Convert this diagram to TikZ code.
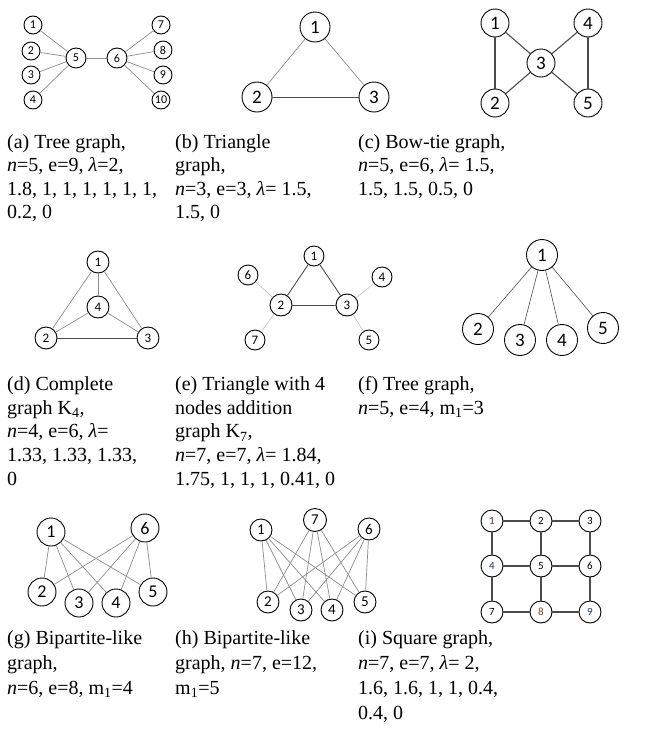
\documentclass[tikz,border=0pt]{standalone}
\usepackage{fontspec}
\setmainfont{Liberation Serif}
\newfontfamily\nodefont{Carlito}
\definecolor{edgegray}{gray}{0.55}
\definecolor{edgedark}{gray}{0.3}
\definecolor{lblred}{RGB}{120,40,30}
\definecolor{lblblue}{RGB}{30,60,110}
\definecolor{lblbrown}{RGB}{110,70,30}
\tikzset{
  gn/.style={circle, draw=black, line width=0.9pt, fill=white, inner sep=0pt, minimum size=#1},
  gn/.default=20pt,
  lite/.style={draw=edgegray, line width=0.7pt},
  dark/.style={draw=edgedark, line width=1.1pt},
  cap/.style={anchor=north west, inner sep=0pt, align=left, font=\fontsize{20}{#1}\selectfont},
  cap/.default=23.5
}
\begin{document}
\begin{tikzpicture}[x=1pt,y=-1pt]
\useasboundingbox (0,0) rectangle (645,742);
% ---------- (a) ----------
\begin{scope}[every node/.append style={font=\nodefont\fontsize{12}{12}\selectfont}]
\node[gn=18pt] (a1) at (33,25) {1};
\node[gn=18pt] (a2) at (31,51) {2};
\node[gn=18pt] (a3) at (31,75) {3};
\node[gn=18pt] (a4) at (33,100) {4};
\node[gn=20pt] (a5) at (76,58) {5};
\node[gn=20pt] (a6) at (117,58) {6};
\node[gn=18pt] (a7) at (161,25) {7};
\node[gn=18pt] (a8) at (163,50) {8};
\node[gn=18pt] (a9) at (163,75) {9};
\node[gn=18pt] (a10) at (161,100) {10};
\end{scope}
\begin{scope}[on background layer/.style={}]
\foreach \i in {1,2,3,4} \draw[lite] (a\i) -- (a5);
\foreach \i in {7,8,9,10} \draw[lite] (a\i) -- (a6);
\draw[lite] (a5) -- (a6);
\end{scope}
% ---------- (b) ----------
\begin{scope}[every node/.append style={font=\nodefont\fontsize{19}{19}\selectfont}]
\node[gn=30pt] (b1) at (315,27) {1};
\node[gn=30pt] (b2) at (257,97) {2};
\node[gn=30pt] (b3) at (374,97) {3};
\end{scope}
\draw[lite] (b1) -- (b2);
\draw[lite] (b1) -- (b3);
\draw[dark, line width=0.8pt] (b2) -- (b3);
% ---------- (c) ----------
\begin{scope}[every node/.append style={font=\nodefont\fontsize{19}{19}\selectfont}]
\node[gn=28pt] (c1) at (495,23) {1};
\node[gn=28pt] (c4) at (588,23) {4};
\node[gn=28pt] (c3) at (541,63) {3};
\node[gn=28pt] (c2) at (495,103) {2};
\node[gn=28pt] (c5) at (588,103) {5};
\end{scope}
\draw[dark] (c1) -- (c2);
\draw[dark] (c1) -- (c3);
\draw[dark] (c3) -- (c4);
\draw[dark] (c3) -- (c2);
\draw[dark] (c3) -- (c5);
\draw[dark] (c4) -- (c5);
% ---------- (d) ----------
\begin{scope}[every node/.append style={font=\nodefont\fontsize{13}{13}\selectfont}]
\node[gn=22pt] (d1) at (98,262) {1};
\node[gn=22pt] (d4) at (98,307) {4};
\node[gn=22pt] (d2) at (46,338) {2};
\node[gn=22pt] (d3) at (148,338) {3};
\end{scope}
\draw[lite] (d1) -- (d4);
\draw[lite] (d1) -- (d2);
\draw[lite] (d1) -- (d3);
\draw[lite] (d4) -- (d2);
\draw[lite] (d4) -- (d3);
\draw[lite, draw=edgedark] (d2) -- (d3);
% ---------- (e) ----------
\begin{scope}[every node/.append style={font=\nodefont\fontsize{13}{13}\selectfont}]
\node[gn=20pt] (e1) at (314,256) {1};
\node[gn=20pt] (e6) at (248,275) {6};
\node[gn=22pt] (e2) at (281,305) {2};
\node[gn=22pt] (e3) at (347,305) {3};
\node[gn=20pt] (e4) at (382,277) {4};
\node[gn=20pt] (e7) at (255,340) {7};
\node[gn=20pt] (e5) at (369,340) {5};
\end{scope}
\draw[dark, line width=0.9pt] (e1) -- (e2);
\draw[dark, line width=0.9pt] (e1) -- (e3);
\draw[dark, line width=0.9pt] (e2) -- (e3);
\draw[lite, draw=gray!45] (e6) -- (e2);
\draw[lite, draw=gray!45] (e7) -- (e2);
\draw[lite, draw=gray!45] (e4) -- (e3);
\draw[lite, draw=gray!45] (e5) -- (e3);
% ---------- (f) ----------
\begin{scope}[every node/.append style={font=\nodefont\fontsize{19}{19}\selectfont}]
\node[gn=31pt] (f1) at (542,255) {1};
\node[gn=31pt] (f2) at (478,329) {2};
\node[gn=31pt] (f3) at (520,340) {3};
\node[gn=31pt] (f4) at (562,340) {4};
\node[gn=31pt] (f5) at (603,328) {5};
\end{scope}
\foreach \i in {2,3,4,5} \draw[lite, draw=edgedark, line width=0.6pt] (f1) -- (f\i);
% ---------- (g) ----------
\begin{scope}[every node/.append style={font=\nodefont\fontsize{18}{18}\selectfont}]
\node[gn=28pt] (g1) at (51,532) {1};
\node[gn=28pt] (g6) at (145,528) {6};
\node[gn=28pt] (g2) at (42,592) {2};
\node[gn=28pt] (g3) at (79,603) {3};
\node[gn=28pt] (g4) at (116,603) {4};
\node[gn=28pt] (g5) at (153,592) {5};
\end{scope}
\foreach \i in {2,3,4,5} {\draw[lite] (g1) -- (g\i); \draw[lite] (g6) -- (g\i);}
% ---------- (h) ----------
\begin{scope}[every node/.append style={font=\nodefont\fontsize{15}{15}\selectfont}]
\node[gn=22pt] (h1) at (261,530) {1};
\node[gn=23pt] (h7) at (315,520) {7};
\node[gn=22pt] (h6) at (369,529) {6};
\node[gn=22pt] (h2) at (268,602) {2};
\node[gn=22pt] (h3) at (301,610) {3};
\node[gn=22pt] (h4) at (332,610) {4};
\node[gn=22pt] (h5) at (365,602) {5};
\end{scope}
\foreach \i in {2,3,4,5} {\draw[lite] (h1) -- (h\i); \draw[lite] (h7) -- (h\i); \draw[lite] (h6) -- (h\i);}
% ---------- (i) ----------
\begin{scope}[every node/.append style={font=\nodefont\fontsize{11}{11}\selectfont}]
\node[gn=22pt, text=lblred] (i1) at (492,521) {1};
\node[gn=22pt] (i2) at (541,521) {2};
\node[gn=22pt] (i3) at (590,521) {3};
\node[gn=22pt, text=lblblue] (i4) at (492,566) {4};
\node[gn=22pt] (i5) at (541,566) {5};
\node[gn=22pt] (i6) at (590,566) {6};
\node[gn=22pt] (i7) at (492,612) {7};
\node[gn=22pt, text=lblbrown] (i8) at (541,612) {8};
\node[gn=22pt, text=lblblue] (i9) at (590,612) {9};
\end{scope}
\draw[dark] (i1) -- (i2); \draw[dark] (i2) -- (i3);
\draw[dark] (i4) -- (i5); \draw[dark] (i5) -- (i6);
\draw[dark] (i7) -- (i8); \draw[dark] (i8) -- (i9);
\draw[dark] (i1) -- (i4); \draw[dark] (i4) -- (i7);
\draw[dark] (i2) -- (i5); \draw[dark] (i5) -- (i8);
\draw[dark] (i3) -- (i6); \draw[dark] (i6) -- (i9);
% ---------- captions ----------
\node[cap] (capa) at (7,131.5) {\strut(a) Tree graph,\\\strut\textit{n}=5, e=9, \textit{λ}=2,\\\strut1.8, 1, 1, 1, 1, 1, 1,\\\strut0.2, 0};
\node[cap] (capb) at (175,131.5) {\strut(b) Triangle\\\strut graph,\\\strut\textit{n}=3, e=3, \textit{λ}= 1.5,\\\strut1.5, 0};
\node[cap] (capc) at (358,131.5) {\strut(c) Bow-tie graph,\\\strut\textit{n}=5, e=6, \textit{λ}= 1.5,\\\strut1.5, 1.5, 0.5, 0};
\node[cap=23.8] (capd) at (7,373.5) {\strut(d) Complete\\\strut graph K\textsubscript{4},\\\strut\textit{n}=4, e=6, \textit{λ}=\\\strut1.33, 1.33, 1.33,\\\strut0};
\node[cap=23.8] (cape) at (175,373.5) {\strut(e) Triangle with 4\\\strut nodes addition\\\strut graph K\textsubscript{7},\\\strut\textit{n}=7, e=7, \textit{λ}= 1.84,\\\strut1.75, 1, 1, 1, 0.41, 0};
\node[cap=23.8] (capf) at (358,373.5) {\strut(f) Tree graph,\\\strut\textit{n}=5, e=4, m\textsubscript{1}=3};
\node[cap=25] (capg) at (7,627) {\strut(g) Bipartite-like\\\strut graph,\\\strut\textit{n}=6, e=8, m\textsubscript{1}=4};
\node[cap=25] (caph) at (175,627) {\strut(h) Bipartite-like\\\strut graph, \textit{n}=7, e=12,\\\strut m\textsubscript{1}=5};
\node[cap=25] (capi) at (358,627) {\strut(i) Square graph,\\\strut\textit{n}=7, e=7, \textit{λ}= 2,\\\strut1.6, 1.6, 1, 1, 0.4,\\\strut0.4, 0};
\end{tikzpicture}
\end{document}
